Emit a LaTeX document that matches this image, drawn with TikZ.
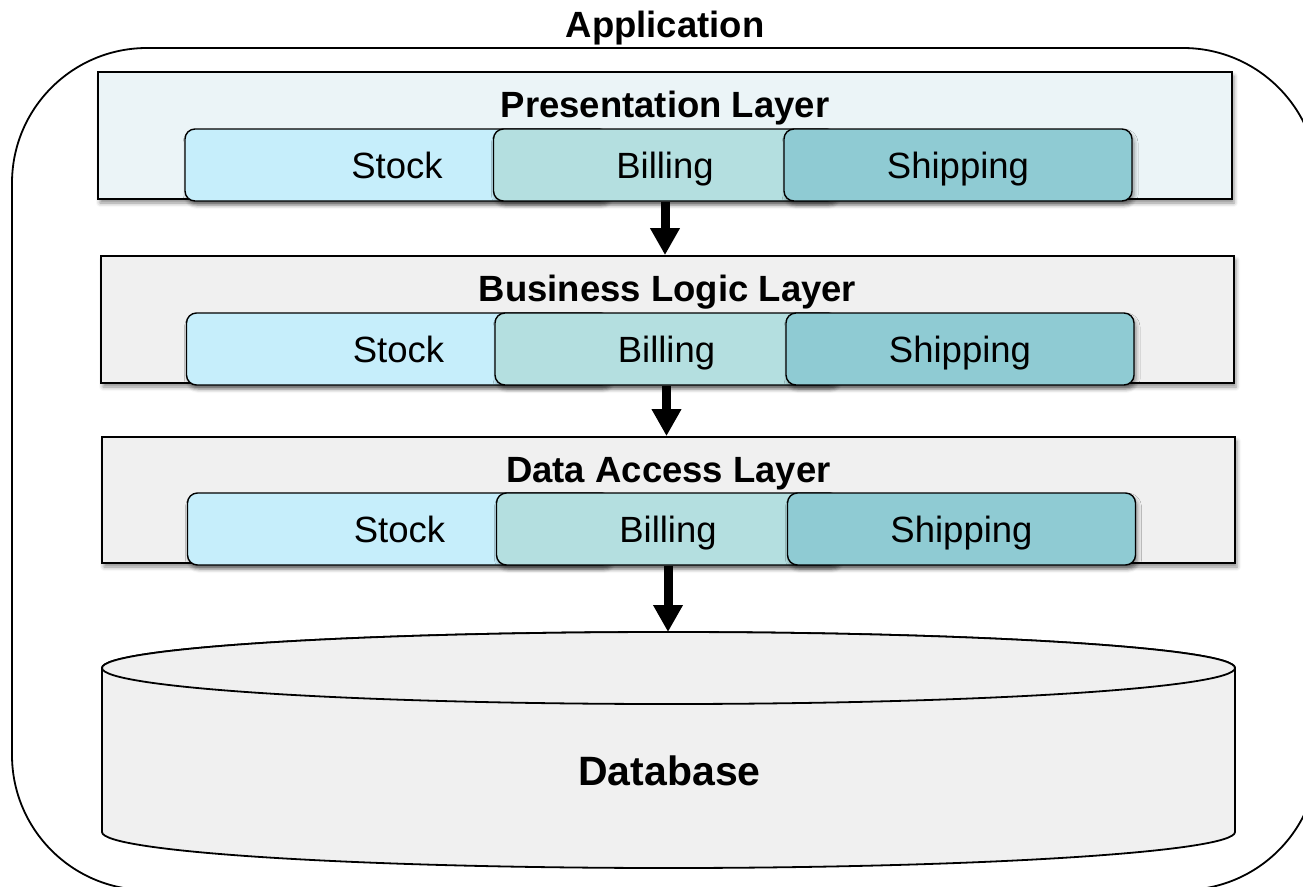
\documentclass[tikz,border=0pt]{standalone}
\usepackage{fontspec}
\setmainfont{Liberation Sans}
\usetikzlibrary{arrows.meta,shadows.blur}

\definecolor{presfill}{RGB}{235,244,247}
\definecolor{layerfill}{RGB}{240,240,240}
\definecolor{stockfill}{RGB}{198,238,251}
\definecolor{billfill}{RGB}{180,223,224}
\definecolor{shipfill}{RGB}{143,203,211}
\definecolor{dbfill}{RGB}{240,240,240}

\begin{document}
\begin{tikzpicture}[x=1pt,y=-1pt,
  appframe/.style={draw=black, line width=1.8pt, rounded corners=135pt},
  heading/.style={font=\bfseries\fontsize{36.5}{40}\selectfont, inner sep=0pt},
  softshadow/.style={blur shadow={shadow xshift=2pt, shadow yshift=-4pt,
      shadow blur radius=4pt, shadow opacity=45}},
  layerbox/.style={draw=black, line width=1.8pt, inner sep=0pt,
      minimum width=1133pt, minimum height=127pt, softshadow},
  modbox/.style={draw=black, line width=1.4pt, rounded corners=10pt, inner sep=0pt,
      minimum height=72pt, text height=26pt, text depth=0pt,
      font=\fontsize{36.5}{40}\selectfont, softshadow},
  stockbox/.style={modbox, fill=stockfill, minimum width=424pt},
  billbox/.style={modbox, fill=billfill, minimum width=343pt},
  shipbox/.style={modbox, fill=shipfill, minimum width=348pt},
  flow/.style={draw=black, line width=9pt, -{Triangle[length=27pt,width=28pt]}},
  dbshape/.style={draw=black, line width=1.8pt, fill=dbfill}
]
\useasboundingbox (0,0) rectangle (1303,886);
\clip (0,0) rectangle (1303,886);

% application frame
\draw[appframe] (12,48) rectangle (1318,890);
\node[heading, anchor=base] (apptitle) at (665,37) {Application};

% presentation layer
\node[layerbox, fill=presfill, minimum width=1134pt] (pres) at (665,135.5) {};
\node[heading, anchor=base] (pres-title) at (665,117) {Presentation Layer};
\node[stockbox] (pres-stock) at (397,165) {Stock};
\node[billbox]  (pres-bill)  at (665,165) {Billing};
\node[shipbox]  (pres-ship)  at (958,165) {Shipping};

% business logic layer
\node[layerbox, fill=layerfill] (logic) at (667.5,319.5) {};
\node[heading, anchor=base] (logic-title) at (667.5,301) {Business Logic Layer};
\node[stockbox] (logic-stock) at (398.5,349) {Stock};
\node[billbox]  (logic-bill)  at (666.5,349) {Billing};
\node[shipbox]  (logic-ship)  at (960,349) {Shipping};

% data access layer
\node[layerbox, fill=layerfill, minimum height=126pt] (data) at (668.5,500) {};
\node[heading, anchor=base] (data-title) at (668.5,482) {Data Access Layer};
\node[stockbox] (data-stock) at (399.5,529) {Stock};
\node[billbox]  (data-bill)  at (668,529) {Billing};
\node[shipbox]  (data-ship)  at (961.5,529) {Shipping};

% database cylinder
\draw[dbshape] (102,668) -- (102,832)
  arc[start angle=180, end angle=360, x radius=566.5pt, y radius=36pt]
  -- (1235,668)
  arc[start angle=0, end angle=180, x radius=566.5pt, y radius=36pt] -- cycle;
\draw[dbshape] (668.5,668) ellipse[x radius=566.5pt, y radius=36pt];
\coordinate (dbtop) at (668.5,632);
\node[font=\bfseries\fontsize{41}{44}\selectfont, inner sep=0pt, anchor=base] (db) at (669.5,785) {Database};

% calls between layers
\draw[flow] (pres-bill.south) -- (pres-bill.south |- logic.north);
\draw[flow] (logic-bill.south) -- (logic-bill.south |- data.north);
\draw[flow] (data-bill.south) -- (data-bill.south |- dbtop);
\end{tikzpicture}
\end{document}
